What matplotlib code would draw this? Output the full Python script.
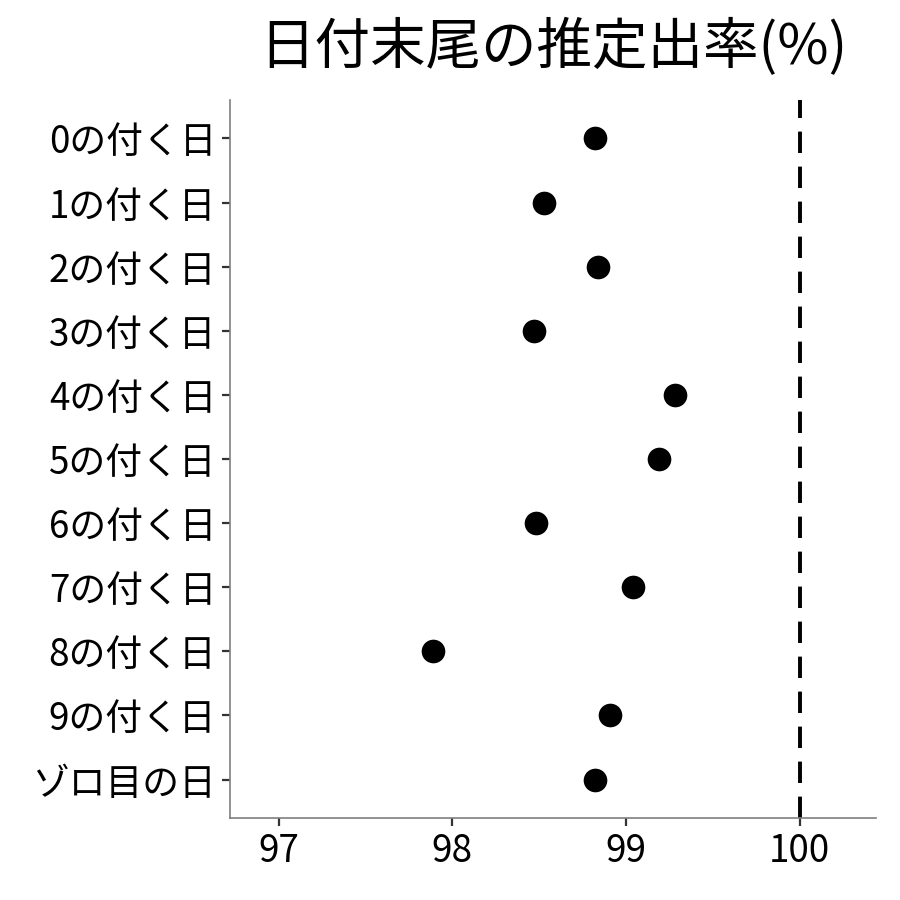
import matplotlib
matplotlib.use('Agg')
import matplotlib.pyplot as plt

plt.rcParams['font.family'] = ['Noto Sans CJK JP', 'DejaVu Sans']

# 推定出率(%) 読み取り値
labels = ['0の付く日', '1の付く日', '2の付く日', '3の付く日', '4の付く日',
          '5の付く日', '6の付く日', '7の付く日', '8の付く日', '9の付く日', 'ゾロ目の日']
rates = [98.82, 98.53, 98.84, 98.47, 99.28, 99.19, 98.48, 99.04, 97.89, 98.91, 98.82]
ref_line = 100
xticks = [97, 98, 99, 100]

fig = plt.figure(figsize=(9, 9), dpi=100)
ax = fig.add_axes([0.2556, 0.0911, 0.9733 - 0.2556, 0.8889 - 0.0911])

ypos = list(range(len(labels), 0, -1))
ax.scatter(rates, ypos, s=290, color='black', zorder=3, linewidths=0)
ax.axvline(ref_line, color='black', linestyle=(0, (5.5, 3.5)), linewidth=2.8)

ax.set_xlim(96.72, 100.44)
ax.set_ylim(0.4, len(labels) + 0.6)
ax.set_yticks(ypos)
ax.set_yticklabels(labels)
ax.set_xticks(xticks)
ax.set_xticklabels([str(t) for t in xticks])

for s in ['top', 'right']:
    ax.spines[s].set_visible(False)
for s in ['left', 'bottom']:
    ax.spines[s].set_color('#7f7f7f')
    ax.spines[s].set_linewidth(1.2)

ax.tick_params(axis='both', labelsize=26.5, colors='#333333', labelcolor='black',
               length=6, width=1.6, pad=4)

fig.text((0.2556 + 0.9733) / 2, 0.947, '日付末尾の推定出率(%)', ha='center', va='center',
         fontsize=40)

fig.savefig('out.png', dpi=100, facecolor='white')
